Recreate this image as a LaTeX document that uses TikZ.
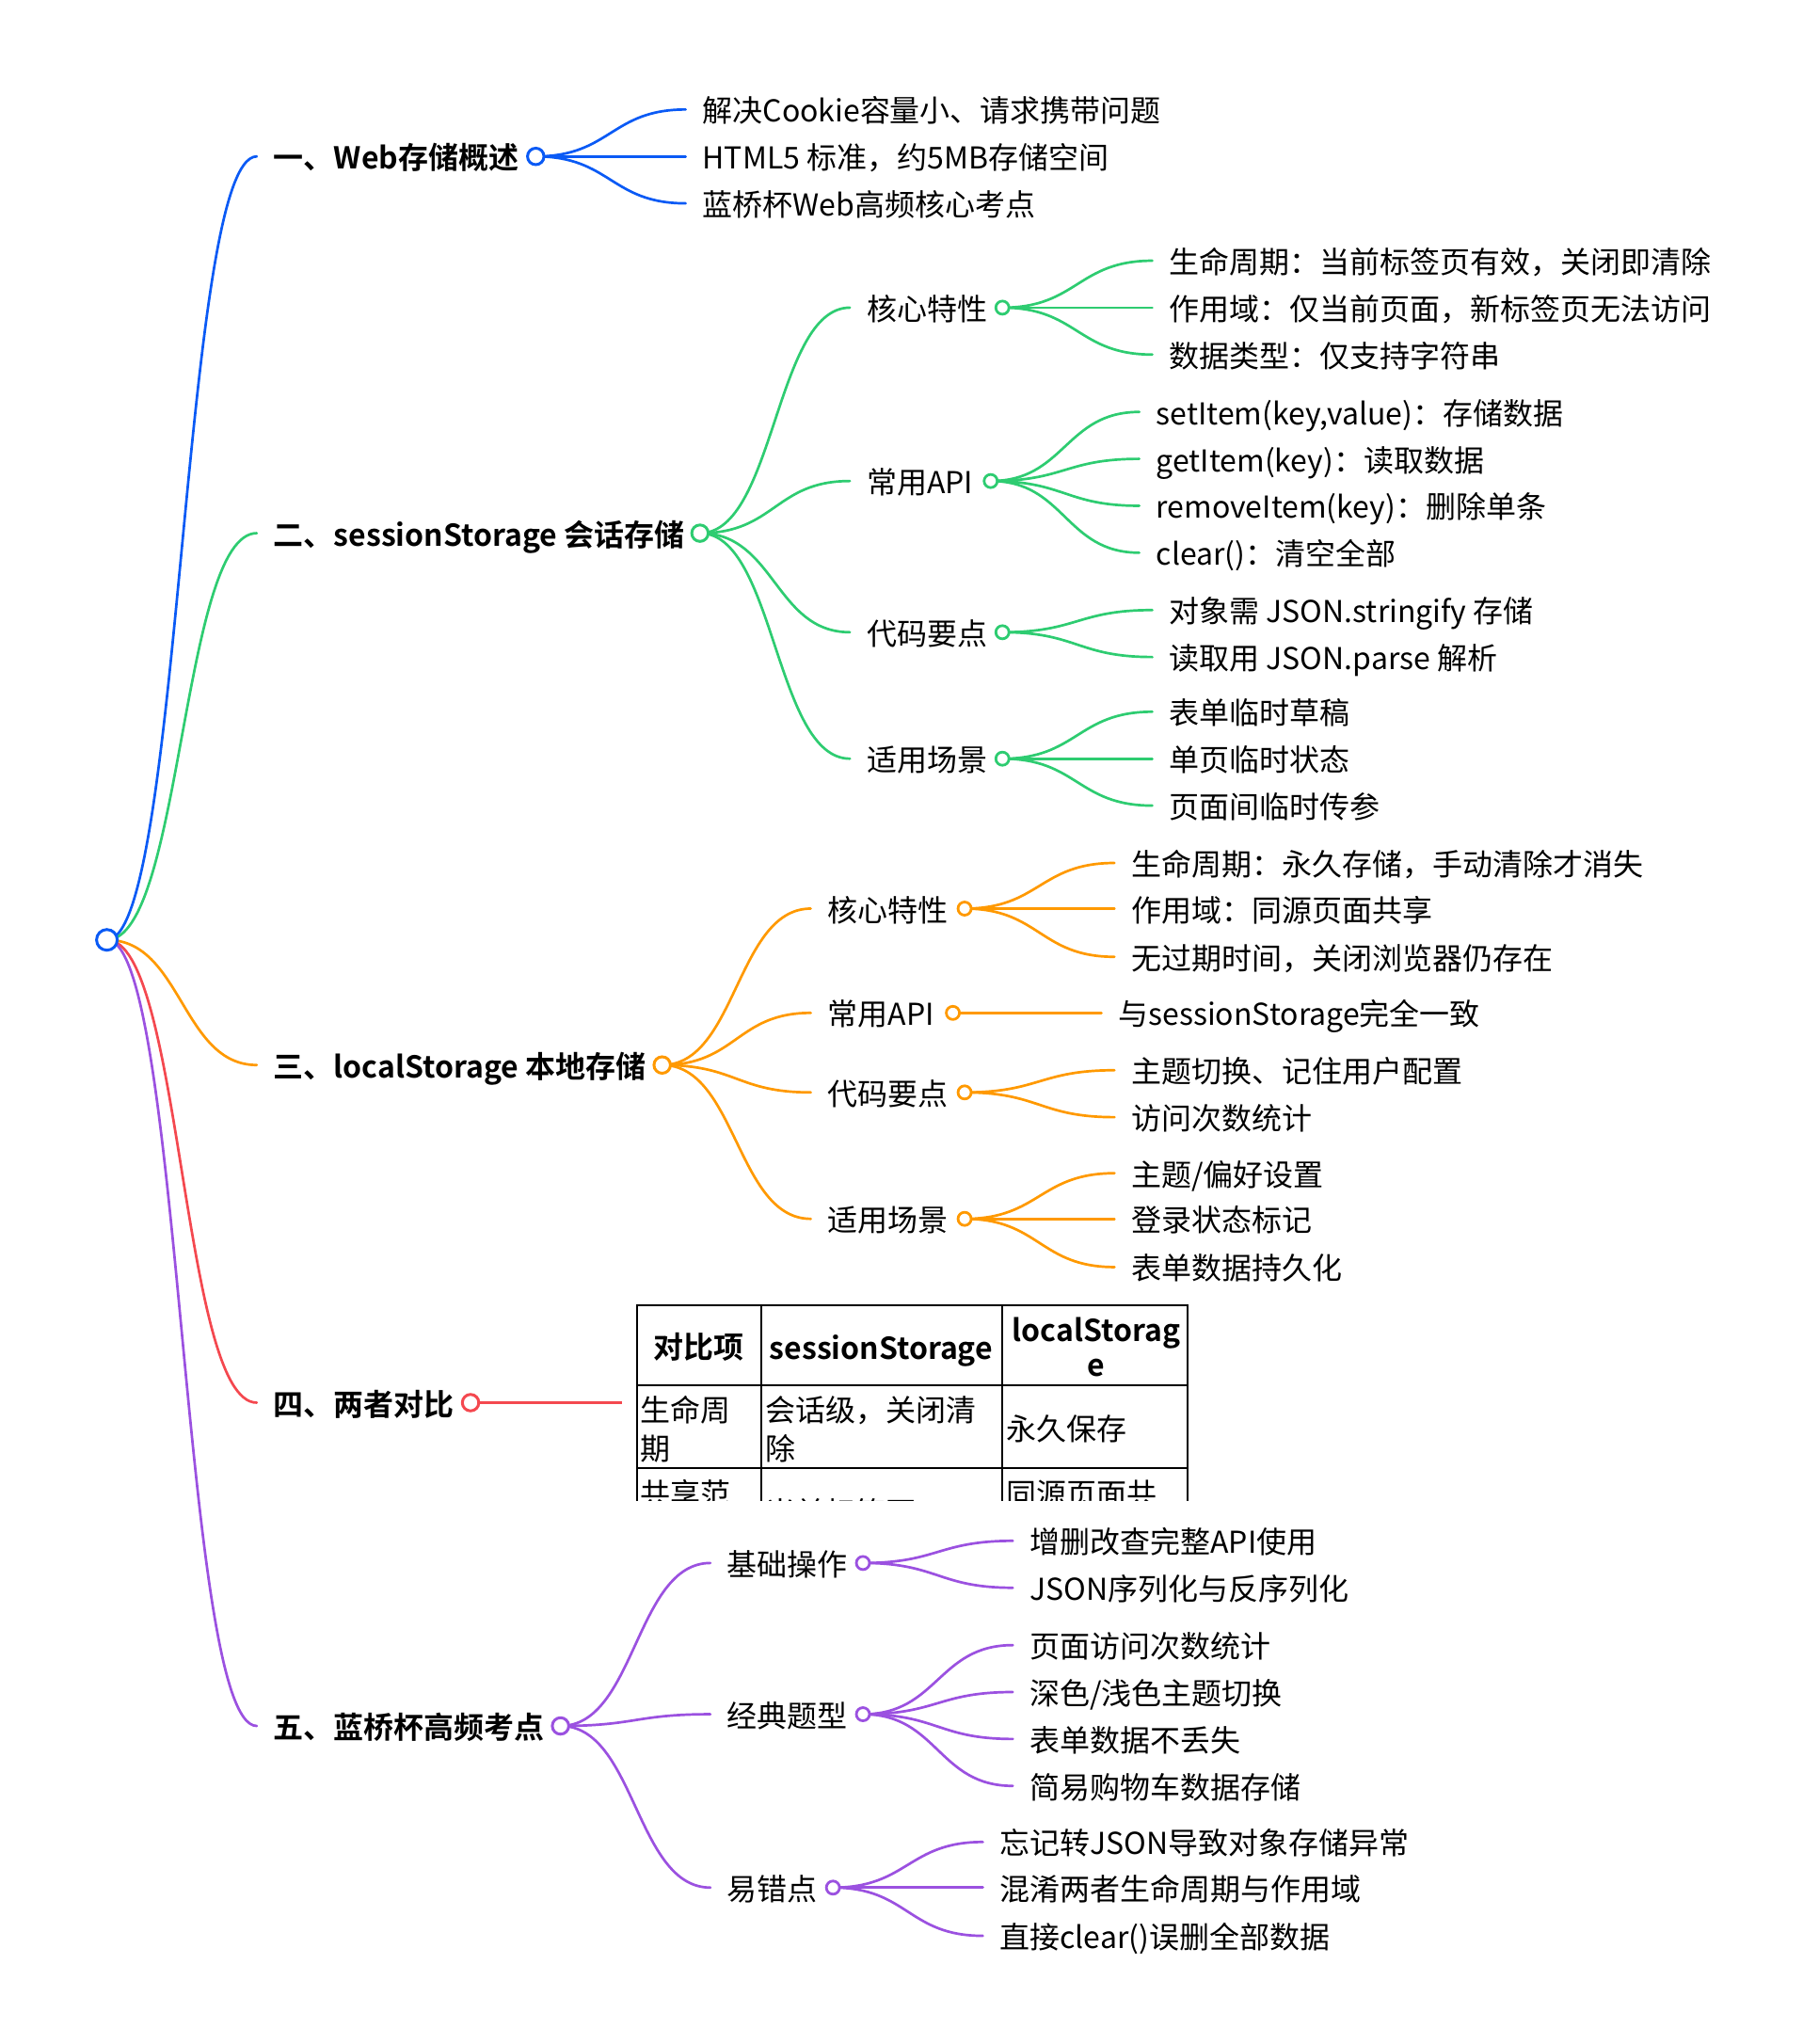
\documentclass[tikz,border=0pt]{standalone}
\usepackage{fontspec}
\setmainfont{Noto Sans CJK SC}[BoldFont={Noto Sans CJK SC Bold}]
\usetikzlibrary{calc}
\definecolor{cB}{HTML}{0A5AF5}
\definecolor{cG}{HTML}{2ECC71}
\definecolor{cO}{HTML}{FF9900}
\definecolor{cR}{HTML}{F4484F}
\definecolor{cP}{HTML}{9B51E0}
\tikzset{
  every node/.style={inner sep=0pt, outer sep=0pt},
  txt/.style={anchor=west, font=\fontsize{32pt}{38.4pt}\selectfont, text height=24.3pt, text depth=0pt},
  htxt/.style={txt, font=\fontsize{32pt}{38.4pt}\selectfont\bfseries},
  ctxt/.style={txt, anchor=center},
  hctxt/.style={htxt, anchor=center},
  link/.style={draw=#1, line width=2.7pt, line cap=round,
    to path={let \p1=(\tikztostart), \p2=(\tikztotarget) in
      .. controls ({0.5*\x1+0.5*\x2},\y1) and ({0.5*\x1+0.5*\x2},\y2) .. (\tikztotarget)}},
  dotzero/.style={circle, draw=#1, fill=white, line width=3pt, minimum size=22pt},
  dotone/.style={circle, draw=#1, fill=white, line width=3pt, minimum size=17.5pt},
  dottwo/.style={circle, draw=#1, fill=white, line width=2.8pt, minimum size=14pt},
  tbl/.style={draw=black, line width=2pt},
}
% leaf: #1 name, #2 colour, #3 from, #4 line end x, #5 text y, #6 text
\newcommand{\mmleaf}[6]{%
  \coordinate (#1e) at (#4,{#5-1});
  \draw[link=#2] (#3) to (#1e);
  \node[txt] (#1) at ({#4+13},#5) {#6};
}
% middle: #1 name, #2 colour, #3 from, #4 line end x, #5 y, #6 text, #7 dot x
\newcommand{\mmmid}[7]{%
  \coordinate (#1e) at (#4,#5);
  \draw[link=#2] (#3) to (#1e);
  \node[txt] (#1t) at ({#4+13},{#5+1}) {#6};
  \coordinate (#1) at (#7,#5);
}
\begin{document}
\begin{tikzpicture}[x=1.3854pt,y=-1.3854pt]
\useasboundingbox (0,0) rectangle (1383,1568);
\coordinate (R) at (82,721);

% ---- 一
\coordinate (A) at (411,120);
\mmmid{Ah}{cB}{R}{197}{120}{\bfseries 一、Web存储概述}{411}
\mmleaf{A1}{cB}{A}{526}{85}{解决Cookie容量小、请求携带问题}
\mmleaf{A2}{cB}{A}{526}{121}{HTML5 标准，约5MB存储空间}
\mmleaf{A3}{cB}{A}{526}{157}{蓝桥杯Web高频核心考点}

% ---- 二
\coordinate (B) at (537,409);
\mmmid{Bh}{cG}{R}{197}{409}{\bfseries 二、sessionStorage 会话存储}{537}
\mmmid{B1}{cG}{B}{652}{236}{核心特性}{769}
\mmleaf{B1a}{cG}{B1}{884}{201}{生命周期：当前标签页有效，关闭即清除}
\mmleaf{B1b}{cG}{B1}{884}{237}{作用域：仅当前页面，新标签页无法访问}
\mmleaf{B1c}{cG}{B1}{884}{273}{数据类型：仅支持字符串}
\mmmid{B2}{cG}{B}{652}{369}{常用API}{760}
\mmleaf{B2a}{cG}{B2}{874}{317}{setItem(key,value)：存储数据}
\mmleaf{B2b}{cG}{B2}{874}{353}{getItem(key)：读取数据}
\mmleaf{B2c}{cG}{B2}{874}{389}{removeItem(key)：删除单条}
\mmleaf{B2d}{cG}{B2}{874}{425}{clear()：清空全部}
\mmmid{B3}{cG}{B}{652}{485}{代码要点}{769}
\mmleaf{B3a}{cG}{B3}{884}{469}{对象需 JSON.stringify 存储}
\mmleaf{B3b}{cG}{B3}{884}{505}{读取用 JSON.parse 解析}
\mmmid{B4}{cG}{B}{652}{582}{适用场景}{769}
\mmleaf{B4a}{cG}{B4}{884}{547}{表单临时草稿}
\mmleaf{B4b}{cG}{B4}{884}{583}{单页临时状态}
\mmleaf{B4c}{cG}{B4}{884}{619}{页面间临时传参}

% ---- 三
\coordinate (C) at (508,817);
\mmmid{Ch}{cO}{R}{197}{817}{\bfseries 三、localStorage 本地存储}{508}
\mmmid{C1}{cO}{C}{622}{697}{核心特性}{740}
\mmleaf{C1a}{cO}{C1}{855}{663}{生命周期：永久存储，手动清除才消失}
\mmleaf{C1b}{cO}{C1}{855}{698}{作用域：同源页面共享}
\mmleaf{C1c}{cO}{C1}{855}{735}{无过期时间，关闭浏览器仍存在}
\mmmid{C2}{cO}{C}{622}{777}{常用API}{731}
\mmleaf{C2a}{cO}{C2}{845}{778}{与sessionStorage完全一致}
\mmmid{C3}{cO}{C}{622}{838}{代码要点}{740}
\mmleaf{C3a}{cO}{C3}{855}{822}{主题切换、记住用户配置}
\mmleaf{C3b}{cO}{C3}{855}{858}{访问次数统计}
\mmmid{C4}{cO}{C}{622}{935}{适用场景}{740}
\mmleaf{C4a}{cO}{C4}{855}{901}{主题/偏好设置}
\mmleaf{C4b}{cO}{C4}{855}{936}{登录状态标记}
\mmleaf{C4c}{cO}{C4}{855}{973}{表单数据持久化}

% ---- 四
\coordinate (D) at (361,1076);
\mmmid{Dh}{cR}{R}{197}{1076}{\bfseries 四、两者对比}{361}
\coordinate (Dx) at (477,1076);
\draw[draw=cR, line width=2.7pt] (D) -- (Dx);

% ---- 五
\coordinate (E) at (430,1324);
\mmmid{Eh}{cP}{R}{197}{1324}{\bfseries 五、蓝桥杯高频考点}{430}
\mmmid{E1}{cP}{E}{545}{1199}{基础操作}{662}
\mmleaf{E1a}{cP}{E1}{777}{1183}{增删改查完整API使用}
\mmleaf{E1b}{cP}{E1}{777}{1219}{JSON序列化与反序列化}
\mmmid{E2}{cP}{E}{545}{1315}{经典题型}{662}
\mmleaf{E2a}{cP}{E2}{777}{1263}{页面访问次数统计}
\mmleaf{E2b}{cP}{E2}{777}{1299}{深色/浅色主题切换}
\mmleaf{E2c}{cP}{E2}{777}{1335}{表单数据不丢失}
\mmleaf{E2d}{cP}{E2}{777}{1371}{简易购物车数据存储}
\mmmid{E3}{cP}{E}{545}{1448}{易错点}{639}
\mmleaf{E3a}{cP}{E3}{754}{1414}{忘记转JSON导致对象存储异常}
\mmleaf{E3b}{cP}{E3}{754}{1449}{混淆两者生命周期与作用域}
\mmleaf{E3c}{cP}{E3}{754}{1486}{直接clear()误删全部数据}

% ---- dots
\node[dotzero=cB] (Rd) at (R) {};
\node[dotone=cB] (Ad) at (A) {};
\node[dotone=cG] (Bd) at (B) {};
\node[dotone=cO] (Cd) at (C) {};
\node[dotone=cR] (Dd) at (D) {};
\node[dotone=cP] (Ed) at (E) {};
\node[dottwo=cG] (B1d) at (B1) {};
\node[dottwo=cG] (B2d) at (B2) {};
\node[dottwo=cG] (B3d) at (B3) {};
\node[dottwo=cG] (B4d) at (B4) {};
\node[dottwo=cO] (C1d) at (C1) {};
\node[dottwo=cO] (C2d) at (C2) {};
\node[dottwo=cO] (C3d) at (C3) {};
\node[dottwo=cO] (C4d) at (C4) {};
\node[dottwo=cP] (E1d) at (E1) {};
\node[dottwo=cP] (E2d) at (E2) {};
\node[dottwo=cP] (E3d) at (E3) {};

% ---- table
\begin{scope}
\clip (486,998) rectangle (914,1151);
\draw[tbl] (489,1001) rectangle (911,1200);
\draw[tbl] (584,1001) -- (584,1200);
\draw[tbl] (769,1001) -- (769,1200);
\draw[tbl] (489,1063) -- (911,1063);
\draw[tbl] (489,1126) -- (911,1126);
\node[hctxt] (T11) at (536,1033) {对比项};
\node[hctxt] (T12) at (676,1034) {sessionStorage};
\node[hctxt] (T13a) at (841,1020) {localStorag};
\node[hctxt] (T13b) at (841,1047) {e};
\node[txt] (T21a) at (491,1082) {生命周};
\node[txt] (T21b) at (491,1111) {期};
\node[txt] (T22a) at (587,1082) {会话级，关闭清};
\node[txt] (T22b) at (587,1111) {除};
\node[txt] (T23) at (772,1096) {永久保存};
\node[txt] (T31) at (491,1146) {共享范};
\node[txt] (T32) at (587,1160) {当前标签页};
\node[txt] (T33) at (772,1146) {同源页面共};
\end{scope}
\end{tikzpicture}
\end{document}
